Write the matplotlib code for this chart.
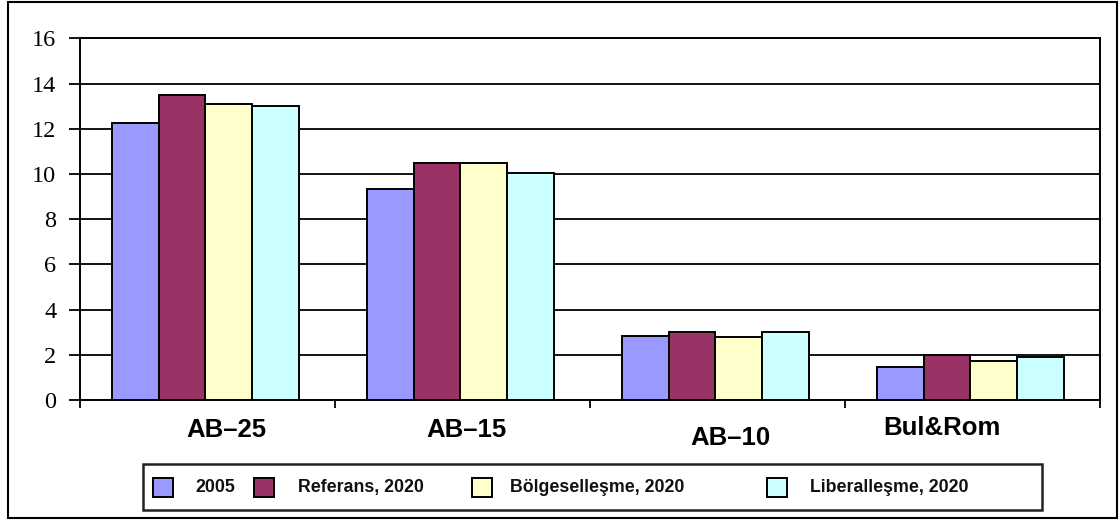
import matplotlib
matplotlib.use("Agg")
import matplotlib.pyplot as plt
from matplotlib.patches import Rectangle
import numpy as np

categories = ["AB–25", "AB–15", "AB–10", "Bul&Rom"]
series_names = ["2005", "Referans, 2020", "Bölgeselleşme, 2020", "Liberalleşme, 2020"]
v2005 = [12.25, 9.35, 2.85, 1.48]
referans = [13.5, 10.5, 3.03, 1.98]
bolgesel = [13.1, 10.5, 2.77, 1.74]
liberal = [13.0, 10.05, 3.03, 1.92]
yticks = [0, 2, 4, 6, 8, 10, 12, 14, 16]

series = [v2005, referans, bolgesel, liberal]
colors = ["#9999FF", "#993366", "#FFFFCC", "#CCFFFF"]

W, H = 1120, 522
fig = plt.figure(figsize=(W / 100, H / 100), dpi=100)

def fx(px):
    return px / W

def fy(py):
    return 1 - py / H

ax = fig.add_axes([fx(80), fy(400), fx(1100) - fx(80), fy(38.3) - fy(400)])

n = len(series)
bw = 0.183
x = np.arange(len(categories))
for i, (vals, c) in enumerate(zip(series, colors)):
    ax.bar(x + (i - (n - 1) / 2) * bw - 0.008, vals, width=bw, color=c,
           edgecolor="black", linewidth=1.4, zorder=3)

ax.set_xlim(-0.5, len(categories) - 0.5)
ax.set_ylim(0, 16)
ax.set_yticks(yticks)
ax.set_yticklabels([str(t) for t in yticks], family="Liberation Serif", fontsize=17.5)
ax.yaxis.grid(True, color="black", linewidth=1.3, zorder=0)
ax.set_axisbelow(True)
ax.set_xticks(np.arange(len(categories) + 1) - 0.5)
ax.set_xticklabels([])
ax.tick_params(axis="y", direction="out", length=8, width=1.3, pad=9, color="black")
ax.tick_params(axis="x", direction="out", length=6, width=1.3, color="black")
for s in ax.spines.values():
    s.set_linewidth(1.4)
    s.set_color("black")

# category labels (manually placed like the reference)
lab_dx = [0.073, 0.016, 0.049, -0.12]
lab_y = [-0.083, -0.083, -0.105, -0.077]
for xi, lab, dx, yy in zip(x, categories, lab_dx, lab_y):
    ax.text(xi + dx, yy, lab, transform=ax.get_xaxis_transform(),
            ha="center", va="center", fontsize=18.5, fontweight="bold",
            family="Liberation Sans")

# legend box drawn manually
fig.patches.append(Rectangle((fx(143), fy(510)), fx(1042) - fx(143), fy(464) - fy(510),
                             transform=fig.transFigure, fill=False,
                             edgecolor="#222222", linewidth=1.8))
hx = [153, 254, 472, 767]
tx = [195, 298, 510, 810]
for name, c, h, t in zip(series_names, colors, hx, tx):
    fig.patches.append(Rectangle((fx(h), fy(497)), fx(20), 19 / H,
                                 transform=fig.transFigure, facecolor=c,
                                 edgecolor="black", linewidth=1.4))
    fig.text(fx(t), fy(487.5), name, ha="left", va="center", fontsize=12.8,
             fontweight="bold", family="Liberation Sans", color="#111111")

# outer frame
fig.patches.append(Rectangle((fx(8), fy(518)), fx(1117) - fx(8), fy(1.5) - fy(518),
                             transform=fig.transFigure, fill=False,
                             edgecolor="black", linewidth=1.5))

fig.savefig("out.png", dpi=100)
